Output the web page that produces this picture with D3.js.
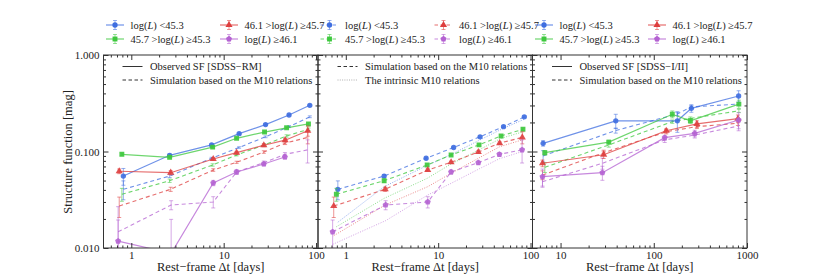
<!DOCTYPE html>
<html>
<head>
<meta charset="utf-8">
<script src="https://cdn.jsdelivr.net/npm/d3@7"></script>
<style>
body { margin: 0; background: #fff; }
text { font-family: "Liberation Serif", "Times New Roman", serif; fill: #222; }
</style>
</head>
<body>
<div id="chart"></div>
<script>
// luminosity bins (legend order)
const binLabels = ["log(L) <45.3", "45.7 >log(L) ≥45.3", "46.1 >log(L) ≥45.7", "log(L) ≥46.1"];

// SDSS-RM rest-frame time lags per bin [days]
const dtRM = [
	[0.82, 2.6, 7.4, 14.7, 28.4, 51, 85.6],
	[0.79, 2.6, 7.6, 13.8, 27.7, 48, 82.8],
	[0.74, 2.67, 7.71, 13.8, 27.2, 46.3, 81.4],
	[0.72, 2.7, 7.71, 13.8, 27.2, 46, 81]
];
// observed SF, SDSS-RM
const sfObsRM = [
	[0.0557, 0.0913, 0.117, 0.153, 0.190, 0.239, 0.301],
	[0.0935, 0.0871, 0.111, 0.137, 0.159, 0.176, 0.193],
	[0.0624, 0.0603, 0.0836, 0.0972, 0.116, 0.131, 0.164],
	[0.0118, 0.0088, 0.0472, 0.0613, 0.0742, 0.0877]
];
const errObsRM = [
	[0.011, 0.003, 0.003, 0.003, 0.004, 0.005, 0.006],
	[0.003, 0.003, 0.003, 0.003, 0.004, 0.004, 0.005],
	[0.0035, 0.003, 0.003, 0.003, 0.004, 0.005, 0.02],
	[0.015, 0.011, 0.003, 0.003, 0.003, 0.004]
];
// simulation based on the M10 relations, SDSS-RM cadence
const sfSimRM = [
	[0.0406, 0.0557, 0.0851, 0.110, 0.142, 0.181, 0.229],
	[0.036, 0.0498, 0.0725, 0.092, 0.117, 0.145, 0.170],
	[0.0272, 0.0406, 0.0643, 0.0773, 0.0988, 0.122, 0.140],
	[0.0147, 0.0279, 0.030, 0.0613, 0.0766, 0.0935, 0.104]
];
const errSimRM = [
	[0.009, 0.002, 0.002, 0.002, 0.003, 0.004, 0.005],
	[0.0055, 0.002, 0.002, 0.002, 0.003, 0.004, 0.005],
	[0.0065, 0.002, 0.002, 0.002, 0.003, 0.004, 0.02],
	[0.0048, 0.003, 0.004, 0.003, 0.003, 0.004, 0.028]
];
// intrinsic M10 relations
const sfIntrinsic = [
	[0.0185, 0.0432, 0.0708, 0.0958, 0.132, 0.174, 0.216],
	[0.0166, 0.0327, 0.0527, 0.0742, 0.104, 0.137, 0.160],
	[0.0134, 0.0279, 0.0432, 0.0594, 0.0851, 0.112, 0.132],
	[0.0109, 0.0192, 0.0354, 0.0468, 0.0654, 0.0842, 0.0998]
];

// SDSS-I/II rest-frame time lags per bin [days]
const dtS82 = [
	[6.5, 39.1, 179, 253, 813],
	[6.78, 32.9, 158, 247, 818],
	[6.4, 29, 136, 290, 800],
	[6.4, 28.1, 131, 275, 813]
];
const sfObsS82 = [
	[0.1216, 0.208, 0.208, 0.280, 0.376],
	[0.0972, 0.125, 0.243, 0.208, 0.310],
	[0.0755, 0.0926, 0.164, 0.193, 0.219],
	[0.0548, 0.0603, 0.139, 0.154, 0.212]
];
const errObsS82 = [
	[0.008, 0.035, 0.05, 0.025, 0.05],
	[0.005, 0.006, 0.02, 0.012, 0.03],
	[0.006, 0.008, 0.008, 0.015, 0.02],
	[0.011, 0.01, 0.008, 0.012, 0.04]
];
const sfSimS82 = [
	[0.090, 0.165, 0.245, 0.290, 0.310],
	[0.0686, 0.117, 0.204, 0.220, 0.264],
	[0.057, 0.0972, 0.160, 0.181, 0.196],
	[0.0486, 0.0755, 0.132, 0.148, 0.184]
];
const errSimS82 = [
	[0.012, 0.01, 0.01, 0.01, 0.01],
	[0.008, 0.006, 0.008, 0.008, 0.01],
	[0.006, 0.006, 0.008, 0.008, 0.01],
	[0.006, 0.01, 0.008, 0.01, 0.02]
];

const yTicks = [0.01, 0.1, 1];

const width = 830, height = 277;
const colors = ["#3f6ee0", "#3ec83e", "#de3e3e", "#b462d2"];

const pentagon = {
	draw(ctx, size) {
		const r = Math.sqrt(size / (2.5 * Math.sin(2 * Math.PI / 5)));
		for (let k = 0; k < 5; k++) {
			const a = -Math.PI / 2 + k * 2 * Math.PI / 5;
			if (k === 0) ctx.moveTo(r * Math.cos(a), r * Math.sin(a));
			else ctx.lineTo(r * Math.cos(a), r * Math.sin(a));
		}
		ctx.closePath();
	}
};
const symbols = [d3.symbolCircle, d3.symbolSquare, d3.symbolTriangle, pentagon];
const symSize = [22, 24, 22, 24];

const svg = d3.select("#chart").append("svg")
	.attr("width", width)
	.attr("height", height);

const yTop = 55, yBot = 248, pw = 214.5, left0 = 103.5;

const y = d3.scaleLog().domain([0.01, 1]).range([yBot, yTop]);

const panels = [
	{
		domain: [0.5, 105], xTicks: [1, 10, 100],
		layers: [
			{dt: dtRM, sf: sfSimRM, err: errSimRM, dash: "4,3", marker: false, lw: 1.1},
			{dt: dtRM, sf: sfObsRM, err: errObsRM, dash: null, marker: true, lw: 1.2}
		],
		legend: [["solid", "Observed SF [SDSS\u2212RM]"], ["dash", "Simulation based on the M10 relations"]]
	},
	{
		domain: [0.5, 105], xTicks: [1, 10, 100],
		layers: [
			{dt: dtRM, sf: sfIntrinsic, err: null, dash: "1,1.5", marker: false, lw: 0.8},
			{dt: dtRM, sf: sfSimRM, err: errSimRM, dash: "4,3", marker: true, lw: 1.1}
		],
		legend: [["dash", "Simulation based on the M10 relations"], ["dot", "The intrinsic M10 relations"]]
	},
	{
		domain: [5, 1000], xTicks: [10, 100, 1000],
		layers: [
			{dt: dtS82, sf: sfSimS82, err: errSimS82, dash: "4,3", marker: false, lw: 1.1},
			{dt: dtS82, sf: sfObsS82, err: errObsS82, dash: null, marker: true, lw: 1.2}
		],
		legend: [["solid", "Observed SF [SDSS\u2212I/II]"], ["dash", "Simulation based on the M10 relations"]]
	}
];

function minorTicks(domain) {
	const out = [];
	for (let e = -3; e < 4; e++) {
		for (let m = 2; m < 10; m++) {
			const v = m * Math.pow(10, e);
			if (v > domain[0] && v < domain[1]) out.push(v);
		}
	}
	return out;
}

function labelWithItalic(sel, label) {
	const parts = label.split("L");
	sel.append("tspan").text(parts[0]);
	sel.append("tspan").style("font-style", "italic").text("L");
	sel.append("tspan").text(parts[1]);
}

const dashOf = {solid: null, dash: "3.5,2.5", dot: "1,1.3"};

panels.forEach((p, i) => {
	const x0 = left0 + i * pw;
	const x = d3.scaleLog().domain(p.domain).range([x0, x0 + pw]);
	const g = svg.append("g");

	g.append("clipPath").attr("id", "clip" + i)
		.append("rect").attr("x", x0).attr("y", yTop).attr("width", pw).attr("height", yBot - yTop);

	const plot = g.append("g").attr("clip-path", `url(#clip${i})`);

	p.layers.forEach(layer => {
		layer.sf.forEach((vals, b) => {
			const pts = vals.map((v, k) => ({t: layer.dt[b][k], v: v, e: layer.err ? layer.err[b][k] : 0}));
			const line = d3.line().x(d => x(d.t)).y(d => y(d.v));
			plot.append("path")
				.datum(pts)
				.attr("d", line)
				.attr("fill", "none")
				.attr("stroke", colors[b])
				.attr("stroke-opacity", 0.75)
				.attr("stroke-width", layer.lw)
				.attr("stroke-dasharray", layer.dash);

			if (layer.err) {
				const eb = plot.append("g")
					.attr("stroke", colors[b])
					.attr("stroke-opacity", 0.55)
					.attr("stroke-width", 1);
				pts.forEach(d => {
					const lo = Math.max(d.v - d.e, 0.004), hi = d.v + d.e;
					const cx = x(d.t);
					eb.append("line").attr("x1", cx).attr("x2", cx).attr("y1", y(lo)).attr("y2", y(hi));
					eb.append("line").attr("x1", cx - 2).attr("x2", cx + 2).attr("y1", y(lo)).attr("y2", y(lo));
					eb.append("line").attr("x1", cx - 2).attr("x2", cx + 2).attr("y1", y(hi)).attr("y2", y(hi));
				});
			}

			if (layer.marker) {
				plot.selectAll(null)
					.data(pts)
					.enter().append("path")
					.attr("transform", d => `translate(${x(d.t)},${y(d.v)})`)
					.attr("d", d3.symbol().type(symbols[b]).size(symSize[b]))
					.attr("fill", colors[b])
					.attr("fill-opacity", 0.9);
			}
		});
	});

	// axes, ticks inside on all four sides
	const minors = minorTicks(p.domain);
	const yMinors = minorTicks([0.01, 1]);
	const axisStyle = a => a.call(s => s.select(".domain").remove())
		.call(s => s.selectAll("line").attr("stroke", "#333"))
		.call(s => s.selectAll("text").attr("font-family", "Liberation Serif").attr("font-size", 11).attr("fill", "#222"));

	g.append("g").attr("transform", `translate(0,${yBot})`)
		.call(d3.axisBottom(x).tickValues(p.xTicks).tickSize(-5).tickPadding(3).tickFormat(d3.format("d"))).call(axisStyle);
	g.append("g").attr("transform", `translate(0,${yBot})`)
		.call(d3.axisBottom(x).tickValues(minors).tickSize(-2.5).tickFormat("")).call(axisStyle);
	g.append("g").attr("transform", `translate(0,${yTop})`)
		.call(d3.axisTop(x).tickValues(p.xTicks).tickSize(-5).tickFormat("")).call(axisStyle);
	g.append("g").attr("transform", `translate(0,${yTop})`)
		.call(d3.axisTop(x).tickValues(minors).tickSize(-2.5).tickFormat("")).call(axisStyle);

	g.append("g").attr("transform", `translate(${x0},0)`)
		.call(d3.axisLeft(y).tickValues(yTicks).tickSize(-5).tickPadding(4).tickFormat(i === 0 ? d3.format(".3f") : "")).call(axisStyle);
	g.append("g").attr("transform", `translate(${x0},0)`)
		.call(d3.axisLeft(y).tickValues(yMinors).tickSize(-2.5).tickFormat("")).call(axisStyle);
	g.append("g").attr("transform", `translate(${x0 + pw},0)`)
		.call(d3.axisRight(y).tickValues(yTicks).tickSize(-5).tickFormat("")).call(axisStyle);
	g.append("g").attr("transform", `translate(${x0 + pw},0)`)
		.call(d3.axisRight(y).tickValues(yMinors).tickSize(-2.5).tickFormat("")).call(axisStyle);

	g.append("rect")
		.attr("x", x0).attr("y", yTop).attr("width", pw).attr("height", yBot - yTop)
		.attr("fill", "none").attr("stroke", "#333").attr("stroke-width", 1);

	g.append("text")
		.attr("x", x0 + pw / 2).attr("y", 271)
		.attr("text-anchor", "middle")
		.attr("font-size", 12.5)
		.text("Rest\u2212frame \u0394t [days]");

	// in-panel legend
	const lx = i === 0 ? x0 + 19 : x0 + 19.5;
	p.legend.forEach((item, r) => {
		const ly = 66.5 + r * 13.5;
		g.append("line")
			.attr("x1", lx).attr("x2", lx + 20).attr("y1", ly).attr("y2", ly)
			.attr("stroke", item[0] === "dot" ? "#999" : "#333")
			.attr("stroke-width", item[0] === "dot" ? 0.8 : 1)
			.attr("stroke-dasharray", dashOf[item[0]]);
		g.append("text")
			.attr("x", lx + 27.5).attr("y", ly)
			.attr("dy", "0.35em")
			.attr("font-size", 10.5)
			.text(item[1]);
	});
});

// y label
svg.append("text")
	.attr("transform", "translate(72,152) rotate(-90)")
	.attr("text-anchor", "middle")
	.attr("font-size", 12.5)
	.text("Structure function [mag]");

// top legends: one block per panel style
const legendBlocks = [
	{x: 106, dash: null, marker: true},
	{x: 320.5, dash: "3.5,2.5", marker: true},
	{x: 535, dash: null, marker: true}
];
const colGap = [114, 114, 113];
legendBlocks.forEach((blk, j) => {
	binLabels.forEach((lab, b) => {
		const col = Math.floor(b / 2), row = b % 2;
		const lx = blk.x + col * colGap[j];
		const ly = 25 + row * 14;
		const lg = svg.append("g");
		lg.append("line")
			.attr("x1", lx).attr("x2", lx + 18).attr("y1", ly).attr("y2", ly)
			.attr("stroke", colors[b]).attr("stroke-opacity", 0.75).attr("stroke-width", 1.2)
			.attr("stroke-dasharray", blk.dash);
		lg.append("line")
			.attr("x1", lx + 9).attr("x2", lx + 9).attr("y1", ly - 4.5).attr("y2", ly + 4.5)
			.attr("stroke", colors[b]).attr("stroke-opacity", 0.55);
		lg.append("line")
			.attr("x1", lx + 7).attr("x2", lx + 11).attr("y1", ly - 4.5).attr("y2", ly - 4.5)
			.attr("stroke", colors[b]).attr("stroke-opacity", 0.55);
		lg.append("line")
			.attr("x1", lx + 7).attr("x2", lx + 11).attr("y1", ly + 4.5).attr("y2", ly + 4.5)
			.attr("stroke", colors[b]).attr("stroke-opacity", 0.55);
		lg.append("path")
			.attr("transform", `translate(${lx + 9},${ly})`)
			.attr("d", d3.symbol().type(symbols[b]).size(symSize[b]))
			.attr("fill", colors[b]);
		lg.append("text")
			.attr("x", lx + 24.5).attr("y", ly)
			.attr("dy", "0.35em")
			.attr("font-size", 10.5)
			.call(labelWithItalic, lab);
	});
});
</script>
</body>
</html>
